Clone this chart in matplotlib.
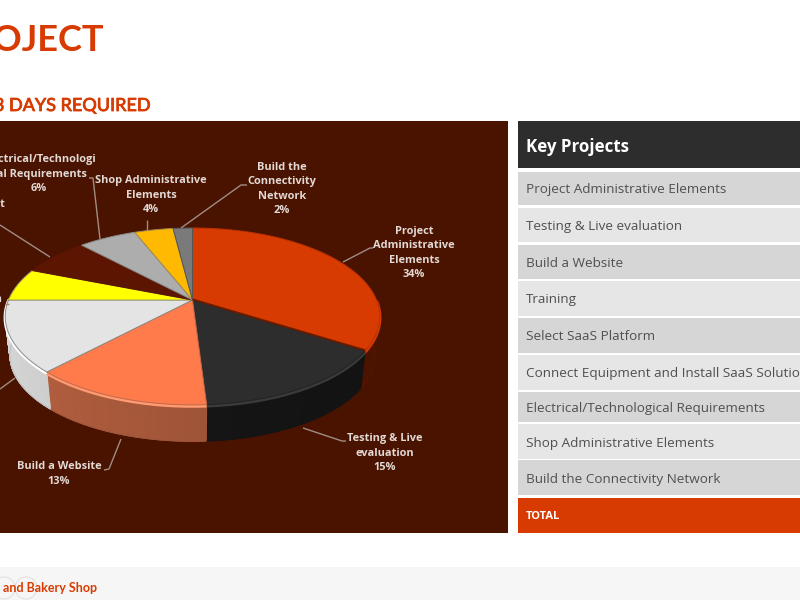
import numpy as np
import matplotlib
matplotlib.use("Agg")
import matplotlib.pyplot as plt
import matplotlib.patheffects as pe
from matplotlib.colors import to_rgb, LinearSegmentedColormap
from matplotlib.patches import Rectangle, Circle
from matplotlib.path import Path
from matplotlib.transforms import Transform

# ---- data ----
projects = ["Project Administrative Elements", "Testing & Live evaluation", "Build a Website",
            "Training", "Select SaaS Platform", "Connect Equipment and Install SaaS Solution",
            "Electrical/Technological Requirements", "Shop Administrative Elements",
            "Build the Connectivity Network"]
shares = [34, 15, 13, 13, 6, 7, 6, 4, 2]
top_colors = ["#d83b01", "#2d2d2d", "#ff7b4b", "#e4e4e4", "#ffff00", "#5c1500", "#adadad", "#ffb900", "#7a7a7a"]
side_colors = ["#561600", "#151515", "#a05538", "#bcbcbc", "#a6a600", "#3c0e00", "#777777", "#a87a00", "#505050"]
edge_colors = ["#b83200", "#222222", "#c06a48", "#8a8a8a", "#a0a060", "#5c1500", "#8a8a8a", "#a08a50", "#555555"]
rim_colors = ["#d83b01", "#3a3a3a", "#ff9a72", "#ffffff", "#ffff00", "#5c1500", "#cccccc", "#ffb900", "#7a7a7a"]
row_colors = ["#d6d6d6", "#e6e6e6", "#d6d6d6", "#e6e6e6", "#d6d6d6", "#e6e6e6", "#d6d6d6", "#e6e6e6", "#d6d6d6"]
row_tops = [172, 208, 245, 281, 318, 355, 392, 424, 460]
row_bottoms = [205, 242, 279, 316, 353, 390, 422, 459, 495]

ORANGE = "#d83b01"
PANEL = "#4a1300"
LABEL = "#e2d8d4"
LEAD = "#a08c84"
FONT = "Open Sans"

CX, CY, RX, RY, PK = 192.5, 300.0, 184.0, 85.4, 0.186   # pie placement (pixels)
DEPTH, SHRINK = 39.0, 0.975


class Perspective(Transform):
    """Tilted-disc projection of a unit-circle pie onto the figure's pixel axes."""
    input_dims = output_dims = 2
    has_inverse = False

    def __init__(self, dy=0.0, scale=1.0):
        super().__init__()
        self.dy, self.scale = dy, scale

    def transform_non_affine(self, xy):
        xy = np.asarray(xy, float)
        d = 1 + PK * xy[:, 1]
        return np.column_stack([CX + self.scale * RX * xy[:, 0] / d,
                                CY + self.dy - self.scale * RY * xy[:, 1] / d])

    def transform_path_non_affine(self, path):
        pts = []
        for curve, code in path.iter_bezier():
            if code == Path.MOVETO:
                pts.append(curve.control_points[-1:])
            else:
                pts.append(curve(np.linspace(0, 1, 16))[1:])
        return Path(self.transform_non_affine(np.vstack(pts)))


fig = plt.figure(figsize=(8, 6), dpi=100, facecolor="white")
ax = fig.add_axes([0, 0, 1, 1])
ax.axis("off")

# top of the disc: a true pie, projected
wedges, _ = ax.pie(shares, colors=top_colors, startangle=90, counterclock=False, radius=1,
                   center=(0, 0), frame=True)
ax.set_aspect("auto")
ax.set_xlim(0, 800)
ax.set_ylim(600, 0)
ax.axis("off")

# header text
ax.text(104, 40.5, "PROJECT", color=ORANGE, fontsize=26, fontweight="bold", family="Lato",
        ha="right", va="center")
ax.text(150, 106, "3 DAYS REQUIRED", color=ORANGE, fontsize=13, family="Lato",
        ha="right", va="center",
        path_effects=[pe.withStroke(linewidth=0.6, foreground=ORANGE)])

# footer
ax.add_patch(Rectangle((0, 567), 800, 33, fc="#f6f6f6", ec="none"))
ax.add_patch(Circle((4, 588), 11, fc="none", ec="#e6e0dc", lw=0.8))
ax.add_patch(Circle((26, 588), 11, fc="none", ec="#e6e0dc", lw=0.8))
ax.text(97, 588, "and Bakery Shop", color=ORANGE, fontsize=9, fontweight="bold", family="Lato",
        ha="right", va="center")

# chart panel
ax.add_patch(Rectangle((0, 121), 508, 412, fc=PANEL, ec="none", zorder=1))

# side wall of the disc, built slice by slice from the shares
top_tf = Perspective()
bot_tf = Perspective(DEPTH, SHRINK)
frac = np.cumsum([0] + shares) / sum(shares)
for i, col in enumerate(side_colors):
    t = np.linspace(frac[i], frac[i + 1], 80) * 2 * np.pi
    circ = np.column_stack([np.sin(t), np.cos(t)])
    c = circ[circ[:, 1] < 0.02]
    if len(c) < 2:
        continue
    upper = top_tf.transform_non_affine(c)
    lower = bot_tf.transform_non_affine(c)
    base = np.array(to_rgb(col))
    cmap = LinearSegmentedColormap.from_list("wall", [np.clip(base * 1.14, 0, 1), np.clip(base * 0.86, 0, 1)])
    ax.pcolormesh(np.vstack([upper[:, 0], lower[:, 0]]), np.vstack([upper[:, 1], lower[:, 1]]),
                  np.vstack([c[:, 0], c[:, 0]]), shading="gouraud", cmap=cmap, vmin=-1, vmax=1, zorder=2)
    ax.plot(lower[:, 0], lower[:, 1], color=col, lw=0.7, zorder=2.2)
    ax.plot(upper[:, 0], upper[:, 1] + 1.2, color=rim_colors[i], lw=2.4, zorder=2.5, solid_capstyle="butt")

for w, ec in zip(wedges, edge_colors):
    w.set_transform(top_tf + ax.transData)
    w.set_edgecolor(ec)
    w.set_linewidth(0.7)
    w.set_zorder(3)
    w.set_clip_on(False)

# dark cast line under the largest slice
a = frac[1] * 2 * np.pi
seam = top_tf.transform_non_affine(np.array([[0, 0], [np.sin(a), np.cos(a)]]))
ax.plot(seam[:, 0], seam[:, 1] - 0.6, color="#6a1c00", lw=1.4, zorder=3.5, solid_capstyle="butt")

# data labels and leaders
labels = [
    ("Project\nAdministrative\nElements\n34%", 414, 253, "center"),
    ("Testing & Live\nevaluation\n15%", 385, 453, "center"),
    ("Build a Website\n13%", 59, 474, "center"),
    ("Electrical/Technologi\ncal Requirements\n6%", 39, 174, "center"),
    ("Shop Administrative\nElements\n4%", 151, 195, "center"),
    ("Build the\nConnectivity\nNetwork\n2%", 282, 189, "center"),
    ("Connect Equipment", 5, 205, "right"),
    ("Select SaaS Platform", 2, 300, "right"),
]
for txt, x, y, ha in labels:
    ax.text(x, y, txt, color=LABEL, fontsize=7.9, fontweight="bold", family=FONT, ha=ha, va="center",
            linespacing=1.42, multialignment="center", zorder=5)

leaders = [
    ([343, 370, 373], [262, 248, 248]),
    ([303, 342, 346], [428, 441, 441]),
    ([121, 109, 104], [439, 469, 470]),
    ([50, 0], [257, 225]),
    ([100, 93, 89], [239, 178, 178]),
    ([147, 147], [220, 230]),
    ([181, 241, 247], [228, 185, 185]),
    ([9, 5], [304, 304]),
    ([15, 0], [378, 389]),
]
for xs, ys in leaders:
    ax.plot(xs, ys, color=LEAD, lw=1.0, zorder=4, solid_capstyle="butt")

# table
ax.add_patch(Rectangle((518, 121), 282, 47, fc="#2d2d2d", ec="none"))
ax.text(526, 147, "Key Projects", color="white", fontsize=12.2, fontweight="bold", family=FONT, va="center")
for name, t, b, c in zip(projects, row_tops, row_bottoms, row_colors):
    ax.add_patch(Rectangle((518, t), 282, b - t, fc=c, ec="none"))
    ax.text(526, (t + b) / 2 + 1.5, name, color="#505050", fontsize=9.7, family=FONT, va="center", clip_on=True)
ax.add_patch(Rectangle((518, 498), 282, 35, fc=ORANGE, ec="none"))
ax.text(526, 516.5, "TOTAL", color="white", fontsize=8, fontweight="bold", family=FONT, va="center")

fig.savefig("out.png", dpi=100, facecolor="white")
